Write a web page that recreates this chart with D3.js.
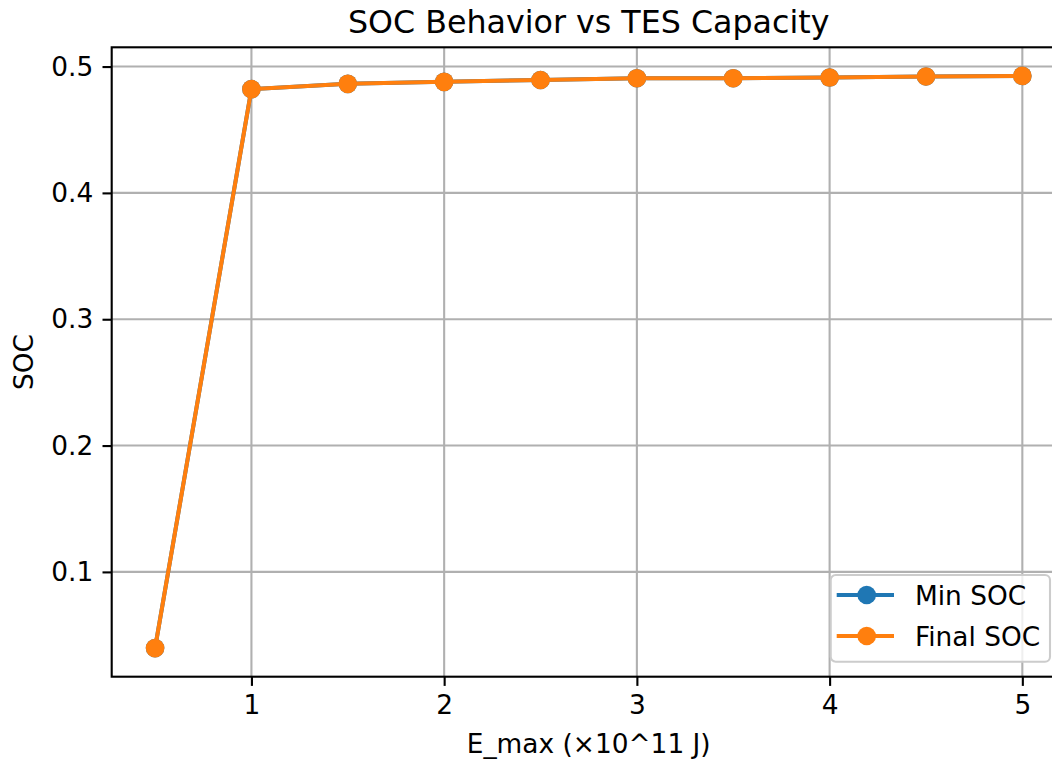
<!DOCTYPE html>
<html>
<head>
<meta charset="utf-8">
<script src="https://cdn.jsdelivr.net/npm/d3@7"></script>
<style>
  html, body { margin: 0; padding: 0; background: #fff; }
  svg { display: block; }
  text { font-family: "DejaVu Sans", sans-serif; fill: #000; }
</style>
</head>
<body>
<script>
// TES capacity (×10^11 J)
const eMax = [0.5, 1.0, 1.5, 2.0, 2.5, 3.0, 3.5, 4.0, 4.5, 5.0];
// State of charge results
const minSOC   = [0.0397, 0.4821, 0.4863, 0.4879, 0.4894, 0.4908, 0.4908, 0.4913, 0.4921, 0.4926];
const finalSOC = [0.0397, 0.4821, 0.4863, 0.4879, 0.4894, 0.4908, 0.4908, 0.4913, 0.4921, 0.4926];
const xTicks = [1, 2, 3, 4, 5];
const yTicks = [0.1, 0.2, 0.3, 0.4, 0.5];
const seriesNames = ["Min SOC", "Final SOC"];
const seriesColors = ["#1f77b4", "#ff7f0e"];

const W = 1052, H = 761;
const plot = { left: 111.7, top: 47.3, right: 1065.7, bottom: 676.7 };
const fs = 26.4;      // tick / label font size
const titleFs = 31.7;

const svg = d3.select("body").append("svg").attr("width", W).attr("height", H);

// 5% padding on both axes, like the default autoscale
function padded(vals) {
  const lo = d3.min(vals), hi = d3.max(vals), m = (hi - lo) * 0.05;
  return [lo - m, hi + m];
}
const x = d3.scaleLinear().domain(padded(eMax)).range([plot.left, plot.right]);
const y = d3.scaleLinear().domain(padded(minSOC.concat(finalSOC))).range([plot.bottom, plot.top]);

// grid
const grid = svg.append("g");
grid.selectAll("line.gx").data(xTicks).join("line")
  .attr("x1", d => x(d)).attr("x2", d => x(d))
  .attr("y1", plot.top).attr("y2", plot.bottom)
  .attr("stroke", "#b0b0b0").attr("stroke-width", 2.1);
grid.selectAll("line.gy").data(yTicks).join("line")
  .attr("x1", plot.left).attr("x2", plot.right)
  .attr("y1", d => y(d)).attr("y2", d => y(d))
  .attr("stroke", "#b0b0b0").attr("stroke-width", 2.1);

// series
const series = [minSOC, finalSOC];
const line = d3.line().x((d, i) => x(eMax[i])).y(d => y(d));
series.forEach((vals, k) => {
  const g = svg.append("g");
  g.append("path").datum(vals)
    .attr("d", line).attr("fill", "none")
    .attr("stroke", seriesColors[k]).attr("stroke-width", 4)
    .attr("stroke-linejoin", "round").attr("stroke-linecap", "square");
  g.selectAll("circle").data(vals).join("circle")
    .attr("cx", (d, i) => x(eMax[i])).attr("cy", d => y(d))
    .attr("r", 9.3).attr("fill", seriesColors[k]);
});

// axes
const xAxis = d3.axisBottom(x).tickValues(xTicks).tickFormat(d3.format("d"))
  .tickSizeInner(9.2).tickSizeOuter(0).tickPadding(9.2);
const yAxis = d3.axisLeft(y).tickValues(yTicks).tickFormat(d3.format(".1f"))
  .tickSizeInner(9.2).tickSizeOuter(0).tickPadding(9.2);

const gx = svg.append("g").attr("transform", `translate(0,${plot.bottom})`).call(xAxis);
const gy = svg.append("g").attr("transform", `translate(${plot.left},0)`).call(yAxis);
[gx, gy].forEach(g => {
  g.select(".domain").remove();
  g.selectAll(".tick line").attr("stroke", "#000").attr("stroke-width", 2.1);
  g.selectAll(".tick text").style("font-size", fs + "px").attr("fill", "#000")
    .style("font-family", '"DejaVu Sans", sans-serif');
});

// spines
svg.append("rect")
  .attr("x", plot.left).attr("y", plot.top)
  .attr("width", plot.right - plot.left).attr("height", plot.bottom - plot.top)
  .attr("fill", "none").attr("stroke", "#000").attr("stroke-width", 2.1);

// title and labels
svg.append("text").attr("x", (plot.left + plot.right) / 2).attr("y", 33)
  .attr("text-anchor", "middle").style("font-size", titleFs + "px")
  .text("SOC Behavior vs TES Capacity");
svg.append("text").attr("x", (plot.left + plot.right) / 2).attr("y", 753)
  .attr("text-anchor", "middle").style("font-size", fs + "px")
  .text("E_max (×10^11 J)");
svg.append("text")
  .attr("transform", `translate(33,${(plot.top + plot.bottom) / 2}) rotate(-90)`)
  .attr("text-anchor", "middle").style("font-size", fs + "px")
  .text("SOC");

// legend
const lg = svg.append("g").attr("transform", "translate(830.7,575)");
lg.append("rect").attr("width", 219.3).attr("height", 86.7)
  .attr("rx", 5).attr("ry", 5)
  .attr("fill", "#fff").attr("fill-opacity", 0.8)
  .attr("stroke", "#cccccc").attr("stroke-width", 2.1);
seriesNames.forEach((name, k) => {
  const cy = 20 + k * 41;
  lg.append("line").attr("x1", 6).attr("x2", 63.3).attr("y1", cy).attr("y2", cy)
    .attr("stroke", seriesColors[k]).attr("stroke-width", 4);
  lg.append("circle").attr("cx", 36).attr("cy", cy).attr("r", 9.3).attr("fill", seriesColors[k]);
  lg.append("text").attr("x", 84.3).attr("y", cy).attr("dy", "0.36em")
    .style("font-size", fs + "px").text(name);
});
</script>
</body>
</html>
